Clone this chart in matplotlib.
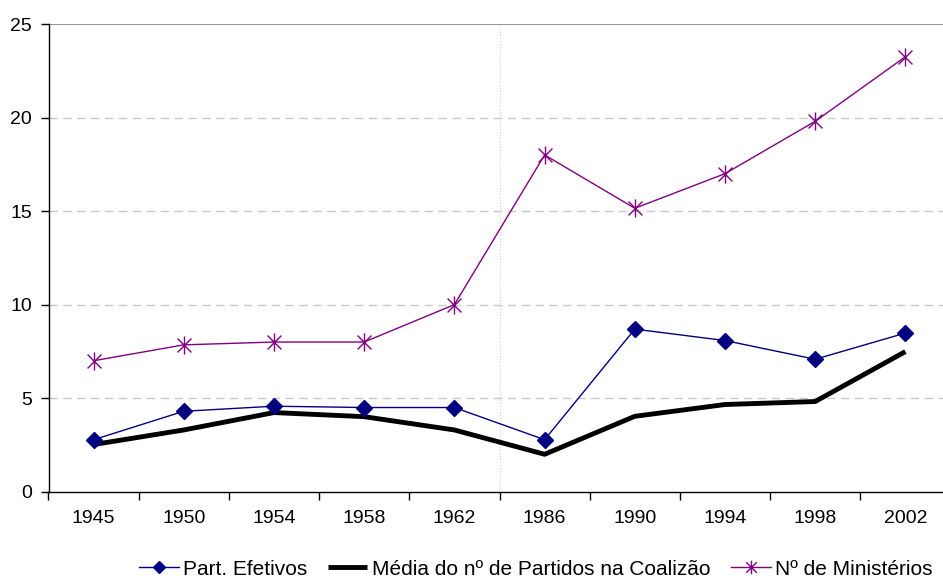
import numpy as np
import matplotlib
matplotlib.use('Agg')
import matplotlib.pyplot as plt
from matplotlib.path import Path

plt.rcParams['font.family'] = ['Liberation Sans', 'DejaVu Sans']

# dados
anos = ['1945', '1950', '1954', '1958', '1962', '1986', '1990', '1994', '1998', '2002']
part_efetivos = [2.78, 4.3, 4.57, 4.5, 4.5, 2.78, 8.69, 8.08, 7.08, 8.48]
media_coalizao = [2.52, 3.3, 4.23, 4.01, 3.3, 2.0, 4.03, 4.66, 4.82, 7.49]
ministerios = [7.0, 7.85, 8.0, 8.0, 10.0, 18.0, 15.15, 17.0, 19.8, 23.25]
y_ticks = [0, 5, 10, 15, 20, 25]

# marcador "estrela" do Excel: X com traço vertical
star = Path([(-1, -1), (1, 1), (-1, 1), (1, -1), (0, -1.3), (0, 1.3)],
            [Path.MOVETO, Path.LINETO, Path.MOVETO, Path.LINETO, Path.MOVETO, Path.LINETO])

fig = plt.figure(figsize=(9.43, 5.79), dpi=100)
ax = fig.add_axes([48.5 / 943, 87.3 / 579, 902 / 943, 467.7 / 579])

x = np.arange(len(anos))
ax.plot(x, part_efetivos, color='#000080', lw=1.0, marker='D', markersize=8,
        label='Part. Efetivos', zorder=4)
ax.plot(x, media_coalizao, color='black', lw=3.5, solid_capstyle='butt',
        label='Média do nº de Partidos na Coalizão', zorder=3)
ax.plot(x, ministerios, color='#800080', lw=1.0, marker=star, markersize=13,
        markeredgewidth=1.0, markerfacecolor='none', label='Nº de Ministérios', zorder=4)

ax.set_xlim(-0.5, len(anos) - 0.5)
ax.set_ylim(0, 25)

# grade
for v in y_ticks[1:-1]:
    ax.axhline(v, color='#c8c8c8', lw=1.0, ls=(0, (6, 4)), zorder=1)
ax.axhline(25, color='#969696', lw=1.5, zorder=1)
ax.axvline(4.5, color='#d0d0d0', lw=0.8, ls=':', zorder=1)

ax.set_yticks(y_ticks)
ax.set_xticks(np.arange(-0.5, len(anos)), labels=[])
ax.set_xticks(x, labels=anos, minor=True)
ax.tick_params(axis='x', which='major', length=6, width=1, direction='out')
ax.tick_params(axis='x', which='minor', length=0, pad=13, labelsize=14)
ax.tick_params(axis='y', length=6, width=1, direction='out', labelsize=14, pad=6)

for s in ['top', 'right']:
    ax.spines[s].set_visible(False)
ax.spines['left'].set_linewidth(1.0)
ax.spines['bottom'].set_linewidth(1.0)

fig.legend(loc='center', bbox_to_anchor=(0.568, 0.017), ncol=3, frameon=False,
           fontsize=15, handlelength=1.9, handletextpad=0.2, columnspacing=1.0,
           borderpad=0, markerscale=0.75)

fig.savefig('out.png', dpi=100)
